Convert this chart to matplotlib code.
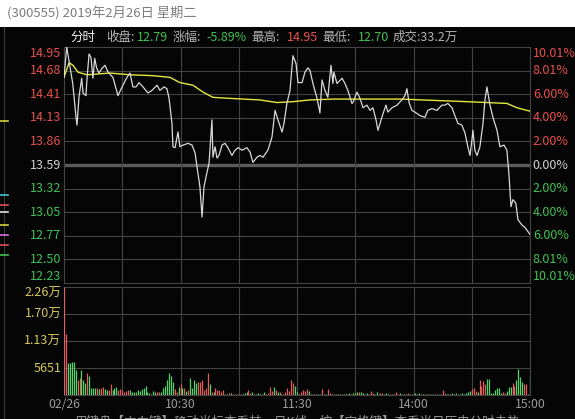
import matplotlib
matplotlib.use('Agg')
import matplotlib.pyplot as plt
import numpy as np
from matplotlib.transforms import blended_transform_factory
from matplotlib.patches import Rectangle
from matplotlib.lines import Line2D

plt.rcParams['font.family'] = ['Noto Sans CJK SC', 'DejaVu Sans']

# ---------------- data ----------------
title_text = '(300555) 2019年2月26日 星期二'
prev_close = 13.59
close_text = '12.79'
change_text = '-5.89%'
high_text = '14.95'
low_text = '12.70'
turnover_text = '33.2万'

price_minutes = [
    0, 1.4, 2.6, 4.5, 6.2, 6.7, 7.7, 9.1, 9.8, 11.3,
    11.8, 12.9, 13.9, 14.9, 15.8, 16.8, 18.0, 19.4, 21.1, 22.7,
    25.2, 27.8, 29.9, 32.4, 34.0, 35.5, 37.1, 38.6, 40.7, 43.3,
    45.3, 47.9, 49.4, 51.5, 53.0, 54.1, 55.6, 56.1, 57.2, 58.2,
    58.7, 59.7, 61.3, 63.9, 65.9, 67.5, 68.5, 70.0, 71.1, 72.1,
    73.6, 74.7, 76.2, 76.7, 77.8, 78.8, 79.8, 81.4, 82.9, 84.4,
    86.5, 88.1, 89.6, 91.7, 94.2, 95.8, 97.3, 99.4, 100.9, 102.5,
    105.0, 107.1, 108.7, 110.2, 112.3, 113.3, 114.8, 116.4, 117.9, 119.5,
    120.5, 122.6, 124.1, 125.6, 126.7, 128.2, 130.3, 131.8, 132.9, 134.4,
    135.9, 137.5, 138.5, 139.0, 140.6, 143.2, 144.7, 146.2, 148.3, 148.8,
    150.9, 152.4, 154.0, 156.0, 157.6, 159.1, 160.7, 161.7, 163.7, 165.8,
    166.8, 168.9, 171.5, 174.0, 175.6, 176.6, 177.7, 179.2, 180.7, 183.3,
    185.9, 187.4, 189.5, 192.1, 194.6, 196.2, 197.7, 199.8, 201.3, 202.9,
    204.9, 206.5, 208.0, 209.1, 210.1, 210.6, 211.6, 212.7, 214.2, 215.8,
    216.8, 217.8, 219.4, 220.9, 223.0, 224.5, 226.6, 228.1, 229.1, 230.2,
    231.2, 232.7, 233.8, 235.8, 237.4, 239.4, 240]
price_values = [
    14.60, 14.95, 14.79, 14.53, 14.14, 14.05, 14.37, 14.59, 14.42, 14.39,
    14.57, 14.87, 14.83, 14.59, 14.82, 14.71, 14.65, 14.70, 14.74, 14.66,
    14.60, 14.39, 14.49, 14.60, 14.65, 14.49, 14.49, 14.54, 14.49, 14.42,
    14.45, 14.51, 14.45, 14.49, 14.47, 14.36, 14.07, 13.80, 13.79, 13.91,
    13.97, 13.80, 13.82, 13.84, 13.82, 13.73, 13.57, 13.34, 12.99, 13.34,
    13.50, 13.61, 14.11, 13.68, 13.80, 13.67, 13.70, 13.82, 13.84, 13.79,
    13.70, 13.76, 13.79, 13.76, 13.79, 13.74, 13.62, 13.68, 13.70, 13.68,
    13.76, 13.91, 14.22, 14.11, 13.97, 14.07, 14.30, 14.45, 14.85, 14.76,
    14.54, 14.54, 14.66, 14.71, 14.68, 14.53, 14.36, 14.19, 14.57, 14.45,
    14.37, 14.74, 14.53, 14.66, 14.53, 14.59, 14.53, 14.45, 14.30, 14.31,
    14.43, 14.36, 14.25, 14.28, 14.22, 14.25, 14.11, 13.99, 14.14, 14.28,
    14.20, 14.25, 14.28, 14.34, 14.39, 14.47, 14.31, 14.22, 14.20, 14.16,
    14.14, 14.22, 14.24, 14.22, 14.28, 14.28, 14.30, 14.25, 14.16, 14.07,
    14.05, 13.96, 13.80, 13.70, 13.88, 13.99, 13.76, 13.70, 13.80, 14.07,
    14.34, 14.49, 14.28, 14.14, 13.99, 13.80, 13.82, 13.76, 13.50, 13.11,
    13.19, 13.15, 12.96, 12.90, 12.87, 12.81, 12.79]

avg_minutes = [0, 2.6, 4.6, 7.2, 11.8, 23.7, 34.0, 45.8, 54.6, 59.7, 66.4, 71.6, 76.7,
               83.9, 92.2, 100.9, 109.7, 117.9, 126.7, 138.5, 173.0, 207.5, 217.8,
               228.1, 233.3, 240]
avg_values = [14.60, 14.77, 14.74, 14.66, 14.63, 14.65, 14.63, 14.62, 14.60, 14.54, 14.51,
              14.43, 14.37, 14.36, 14.35, 14.34, 14.31, 14.32, 14.34, 14.35, 14.35, 14.32,
              14.31, 14.30, 14.25, 14.21]

volumes = [
    22600, 12800, 6700, 6700, 6900, 7000, 5300, 3100, 3600, 5300,
    3200, 2500, 4700, 4000, 1500, 1500, 1500, 1400, 1250, 1500,
    1700, 1250, 1000, 1100, 2400, 1000, 1400, 1700, 1100, 1250,
    1100, 700, 850, 1000, 1100, 700, 550, 700, 1100, 850,
    1250, 1400, 1800, 550, 400, 280, 850, 700, 550, 700,
    700, 1400, 1950, 3200, 4500, 4000, 2650, 1250, 700, 1700,
    2400, 1500, 1500, 850, 1100, 3600, 1400, 3100, 2500, 2650,
    2650, 3100, 1000, 1400, 4500, 2400, 700, 700, 1400, 1000,
    1100, 700, 1000, 280, 140, 400, 400, 280, 280, 280,
    280, 280, 280, 400, 700, 1100, 400, 550, 280, 280,
    400, 140, 280, 550, 280, 400, 1700, 850, 1700, 1100,
    700, 550, 280, 280, 700, 1400, 850, 3200, 2500, 1800,
    700, 280, 550, 1100, 850, 1250, 850,
    300, 200, 280, 200,
    280, 280, 1200, 280, 200,
    1270, 350, 200, 140, 200,
    200, 140, 200, 280, 140, 200, 350, 200, 350, 500,
    700, 640, 560, 350, 200, 490, 280, 850, 350, 200,
    560, 280, 420, 490, 280, 350, 200, 280, 140, 200,
    560, 280, 350, 200, 280, 200, 350, 280, 200, 280,
    490, 200, 350, 200, 140, 200, 280, 200, 140, 200,
    200, 280, 280, 200, 1050, 350, 280, 200, 280, 350,
    280, 350, 200, 280, 350, 280, 490, 700, 920, 1340,
    1550, 850, 700, 3040, 1900, 2960, 2260, 3320, 3390, 350,
    490, 1060, 1410, 1550, 490, 700, 490, 780, 1770, 1770,
    2470, 1900, 3180, 5510, 3670, 2820, 2330, 2330, 150, 4020]
volume_dirs = ("rrgggggrrg ggrggggrgr rggrrgggrr rrrrgggggg gggggrggrr "
               "gggggggrrg rgrgrggggr rrrrrgrgrr rrrgrrgrrr grgggrrgrg "
               "grggrrrrgr grgrrrrrrg grrrrrg "
               "grrg grrgr rrgrg "
               "grggrggrgg grggrggrrg ggrrgggrgr rrgrrgrgrg gggrgrggrg "
               "grrgrrggrg ggrggggggr rrgrrrrggg gggggrrggg rrggggrrgg").replace(' ', '')

pct_levels = [10.01, 8.01, 6.00, 4.00, 2.00, 0.00, -2.00, -4.00, -6.00, -8.01, -10.01]
pct_labels = ['10.01%', '8.01%', '6.00%', '4.00%', '2.00%', '0.00%',
              '2.00%', '4.00%', '6.00%', '8.01%', '10.01%']
price_labels = ['14.95', '14.68', '14.41', '14.13', '13.86', '13.59',
                '13.32', '13.05', '12.77', '12.50', '12.23']
vol_levels = [22604, 16953, 11302, 5651]
vol_labels = ['2.26万', '1.70万', '1.13万', '5651']
time_ticks = [0, 60, 120, 180, 240]
time_labels = ['02/26', '10:30', '11:30', '14:00', '15:00']
grid_minutes = [30, 60, 90, 120, 150, 180, 210]
footer_text = '用键盘【方向键】移动光标查看某一日K线，按【空格键】查看当日历史分时走势'

# ---------------- style ----------------
W, H = 575, 419
BG = '#050505'
GRID = '#444444'
RED = '#e8504c'
GREEN = '#3fc253'
NEUTRAL = '#d2d2d2'
LABEL = '#b4b4b4'
YELLOW_TXT = '#d6ca5c'
BAR_RED = '#e35f5f'
BAR_GREEN = '#55d36c'
FS = 9


def fx(x):
    return x / W


def fy(y):
    return 1 - y / H


fig = plt.figure(figsize=(W / 100, H / 100), dpi=100, facecolor=BG)

# white title band
fig.patches.append(Rectangle((0, fy(27)), 1, 27 / H, transform=fig.transFigure,
                             facecolor='white', edgecolor='none', zorder=0))
fig.text(fx(7), fy(14), title_text, color='#7c7c7c', fontsize=9.5, va='center', ha='left')

# left sliver decorations
fig.lines.append(Line2D([fx(3.5), fx(3.5)], [fy(27), 0], transform=fig.transFigure,
                        color='#3a3a3a', lw=0.8))
for yy, cc in [(121, '#d8d040'), (195, '#40c8d0'), (205, '#e05050'), (212, '#e0e0e0'),
               (225, '#d8d040'), (235, '#e070e0'), (245, '#e05050'), (255, '#40c050')]:
    fig.lines.append(Line2D([0, fx(8)], [fy(yy), fy(yy)], transform=fig.transFigure,
                            color=cc, lw=1.2))

# header row
header = [(70, '分时', '#f0f0f0'), (106, '收盘:', LABEL), (137, close_text, GREEN),
          (173, '涨幅:', LABEL), (206, change_text, GREEN), (251, '最高:', LABEL),
          (287, high_text, RED), (322, '最低:', LABEL), (358, low_text, GREEN),
          (393, '成交:' + turnover_text, LABEL)]
for xx, tt, cc in header:
    fig.text(fx(xx), fy(37.5), tt, color=cc, fontsize=FS, va='center', ha='left')

# ---------------- price panel ----------------
ax = fig.add_axes([fx(64), fy(283), (530 - 64) / W, (283 - 47) / H])
ax.set_facecolor(BG)
ax.set_xlim(0, 240)
ymin = prev_close * (1 + pct_levels[-1] / 100)
ymax = prev_close * (1 + pct_levels[0] / 100)
ax.set_ylim(ymin, ymax)
for p in pct_levels[1:-1]:
    lev = prev_close * (1 + p / 100)
    if p == 0:
        ax.axhline(lev, color='#5c5c5c', lw=2.4, zorder=1)
    else:
        ax.axhline(lev, color=GRID, lw=0.8, zorder=1)
for m in grid_minutes:
    ax.axvline(m, color=GRID, lw=0.8, zorder=1)
for s in ax.spines.values():
    s.set_color(GRID)
    s.set_linewidth(0.8)
ax.set_xticks([])
ax.set_yticks([])

ax.plot(avg_minutes, avg_values, color='#e6e640', lw=1.0, zorder=3)
ax.plot(price_minutes, price_values, color='#d8d8d8', lw=0.9, zorder=4)

trans = blended_transform_factory(ax.transAxes, ax.transData)
n = len(pct_levels)
for i, (p, pl, ql) in enumerate(zip(pct_levels, price_labels, pct_labels)):
    lev = prev_close * (1 + p / 100)
    if p > 0:
        col = RED
    elif p < 0:
        col = GREEN
    else:
        col = NEUTRAL
    va = 'top' if i == 0 else ('bottom' if i == n - 1 else 'center')
    ax.text(-0.006, lev, pl, transform=trans, color=col, fontsize=FS, ha='right', va=va)
    ax.text(1.006, lev, ql, transform=trans, color=col, fontsize=FS, ha='left', va=va)

# ---------------- volume panel ----------------
av = fig.add_axes([fx(64), fy(395), (530 - 64) / W, (395 - 287) / H])
av.set_facecolor(BG)
av.set_xlim(0, 240)
av.set_ylim(0, vol_levels[0])
for v in vol_levels[1:]:
    av.axhline(v, color=GRID, lw=0.8, zorder=1)
for m in grid_minutes:
    av.axvline(m, color=GRID, lw=0.8, zorder=1)
for s in av.spines.values():
    s.set_color(GRID)
    s.set_linewidth(0.8)
av.set_xticks([])
av.set_yticks([])

mins = np.arange(len(volumes))
cols = [BAR_RED if c == 'r' else BAR_GREEN for c in volume_dirs]
av.vlines(mins, 0, volumes, colors=cols, lw=0.9, zorder=3)

vtrans = blended_transform_factory(av.transAxes, av.transData)
for i, (v, lab) in enumerate(zip(vol_levels, vol_labels)):
    va = 'top' if i == 0 else 'center'
    av.text(-0.006, v, lab, transform=vtrans, color=YELLOW_TXT, fontsize=FS, ha='right', va=va)

ttrans = blended_transform_factory(av.transData, fig.transFigure)
for t, lab in zip(time_ticks, time_labels):
    av.text(t, fy(404), lab, transform=ttrans, color='#9a9a9a', fontsize=8.8,
            ha='center', va='center')

fig.text(fx(75), fy(416), footer_text, color='#9a9a9a', fontsize=9, ha='left', va='top')

fig.savefig('out.png', dpi=100, facecolor=BG)
